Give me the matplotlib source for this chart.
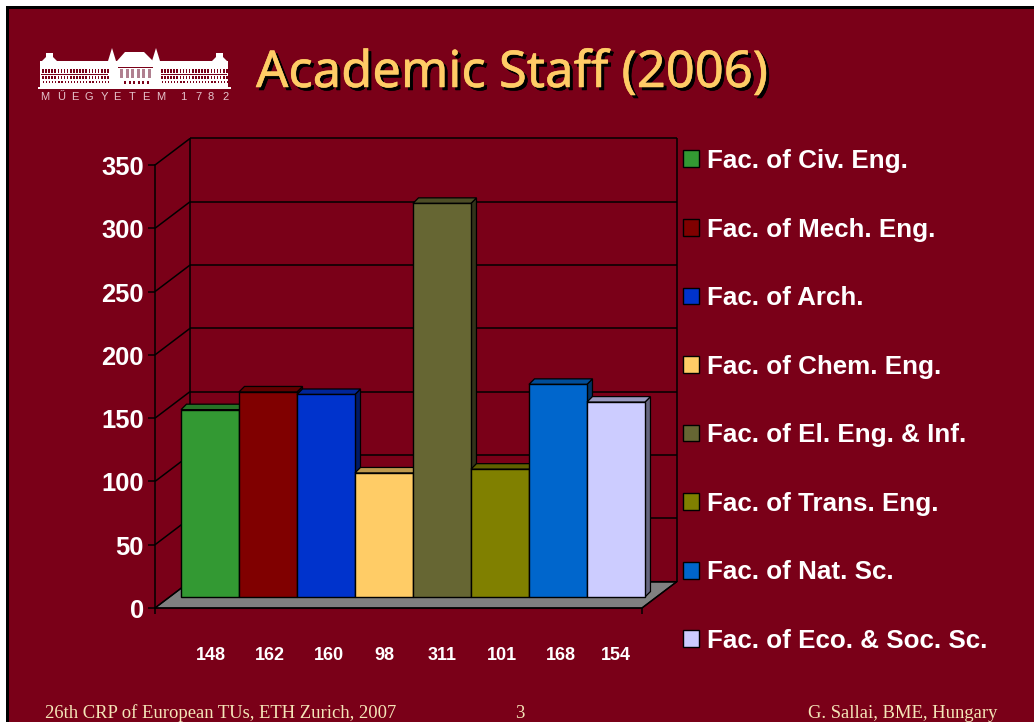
import matplotlib
matplotlib.use("Agg")
import matplotlib.pyplot as plt
import matplotlib.patheffects as pe
from matplotlib.patches import Polygon, Rectangle
from matplotlib.transforms import ScaledTranslation
import numpy as np

faculties = ["Fac. of Civ. Eng.", "Fac. of Mech. Eng.", "Fac. of Arch.", "Fac. of Chem. Eng.",
             "Fac. of El. Eng. & Inf.", "Fac. of Trans. Eng.", "Fac. of Nat. Sc.", "Fac. of Eco. & Soc. Sc."]
staff = [148, 162, 160, 98, 311, 101, 168, 154]
colors = ["#339933", "#800000", "#0033CC", "#FFCC66", "#666633", "#808000", "#0066CC", "#CCCCFF"]
yticks = [0, 50, 100, 150, 200, 250, 300, 350]
label_nudge_px = [1, 2, 3, 0, 0, 2, 3, 0]

BG = "#7A0018"
W, H = 1034, 722
fig = plt.figure(figsize=(W / 100, H / 100), dpi=100, facecolor="white")

# ---------- slide layer, in pixel coordinates ----------
bg = fig.add_axes([0, 0, 1, 1], zorder=0)
bg.set_xlim(0, W); bg.set_ylim(H, 0); bg.axis("off")
bg.add_patch(Rectangle((6, 6), W, H, fc="black", ec="none"))
bg.add_patch(Rectangle((9, 9), W, H, fc=BG, ec="none"))

# logo
white = "white"
def poly(pts, c=white):
    bg.add_patch(Polygon(pts, closed=True, fc=c, ec="none"))
def rect(x, y, w, h, c=white):
    bg.add_patch(Rectangle((x, y), w, h, fc=c, ec="none"))
rect(38, 87, 193, 1.6)
rect(40, 60.5, 188, 26.5)
poly([(41, 62), (46, 57), (46, 53), (53, 53), (53, 57), (58, 62)])
poly([(211, 62), (216, 57), (216, 53), (223, 53), (223, 57), (228, 62)])
poly([(117, 61), (125, 52), (144, 52), (153, 61)])
poly([(108, 61), (112, 48), (116, 61)])
poly([(152, 61), (156, 48), (160, 61)])
for x in np.arange(42, 108, 3.1):
    rect(x, 68.5, 1.6, 4, BG); rect(x, 76, 1.6, 2.6, BG); rect(x + 0.8, 81, 1.2, 1.6, BG)
for x in np.arange(161, 227, 3.1):
    rect(x, 68.5, 1.6, 4, BG); rect(x, 76, 1.6, 2.6, BG); rect(x + 0.8, 81, 1.2, 1.6, BG)
rect(41, 73.6, 67, 0.9, BG); rect(161, 73.6, 66, 0.9, BG)
rect(118, 67, 35, 0.8, BG)
for x in np.arange(120, 152, 5.6):
    rect(x, 69, 3, 8.5, "#B08090")
for x in np.arange(124, 148, 4.5):
    rect(x, 81, 2, 3, BG)
logo_chars = list("MŰEGYETEM1782")
logo_x = [45, 61, 75, 89, 104, 117, 132, 146, 161, 183, 198, 211, 226]
for ch, x in zip(logo_chars, logo_x):
    bg.text(x, 97, ch, color="#E6C4CC", fontsize=8, family="Liberation Sans", ha="center", va="center")

# title
title = "Academic Staff (2006)"
bg.text(259, 90, title, color="black", fontsize=36.5, family="Noto Sans", ha="left", va="baseline",
        path_effects=[pe.withStroke(linewidth=0.4, foreground="black")])
bg.text(256, 87, title, color="#FFCC66", fontsize=36.5, family="Noto Sans", ha="left", va="baseline",
        path_effects=[pe.withStroke(linewidth=0.4, foreground="#FFCC66")])

# footer
foot = dict(color="#F5E6B8", fontsize=13.4, family="Liberation Serif", va="baseline")
bg.text(45, 718, "26th CRP of European TUs, ETH Zurich, 2007", ha="left", **foot)
bg.text(520, 718, "3", ha="center", **foot)
bg.text(997, 718, "G. Sallai, BME, Hungary", ha="right", **foot)

# ---------- chart ----------
left, right, top, bottom = 155, 642, 165, 608
ax = fig.add_axes([left / W, 1 - bottom / H, (right - left) / W, (bottom - top) / H], zorder=1)
ax.patch.set_alpha(0)
ax.set_xlim(-0.5, 7.897); ax.set_ylim(0, 350)
px_x = 58.0
px_v = (bottom - top) / 350
WALL_DX, WALL_DV = 35 / px_x, 26.5 / px_v
BAR_DX, BAR_DV = 26 / px_x, 11 / px_v
SIDE_DX, SIDE_DV = 5.5 / px_x, 5.5 / px_v
x0, x1 = ax.get_xlim()
line = dict(color="black", lw=1.1, clip_on=False, solid_capstyle="butt")

for s in ["top", "right"]:
    ax.spines[s].set_visible(False)
for s in ["left", "bottom"]:
    ax.spines[s].set_linewidth(1.1)

# floor
ax.add_patch(Polygon([(x0, 0), (x1, 0), (x1 + WALL_DX, WALL_DV), (x0 + WALL_DX, WALL_DV)],
                     closed=True, fc="#808080", ec="black", lw=0.8, clip_on=False, zorder=1))
# walls and grid
for v in yticks:
    ax.plot([x0 + WALL_DX, x1 + WALL_DX], [v + WALL_DV] * 2, zorder=1.5, **line)
    ax.plot([x0, x0 + WALL_DX], [v, v + WALL_DV], zorder=1.5, **line)
ax.plot([x0 + WALL_DX] * 2, [WALL_DV, 350 + WALL_DV], zorder=1.5, **line)
ax.plot([x1 + WALL_DX] * 2, [WALL_DV, 350 + WALL_DV], zorder=1.5, **line)
ax.plot([x1, x1 + WALL_DX], [0, WALL_DV], zorder=1.5, **line)
ax.plot([x1, x1], [0, -6 / px_v], zorder=1.5, **line)

# bars: left to right so that each one covers its neighbour's side
xs = np.arange(len(staff))
handles = []
for i, (xv, v, c) in enumerate(zip(xs, staff, colors)):
    z = 2 + i * 0.1
    rgb = np.array(matplotlib.colors.to_rgb(c))
    l, r = xv - 0.5 + BAR_DX, xv + 0.5 + BAR_DX
    tv = v + BAR_DV
    ax.add_patch(Polygon([(r, BAR_DV), (r + SIDE_DX, BAR_DV + SIDE_DV), (r + SIDE_DX, tv + SIDE_DV), (r, tv)],
                         closed=True, fc=rgb * 0.5, ec="black", lw=0.9, clip_on=False, zorder=z))
    ax.add_patch(Polygon([(l, tv), (r, tv), (r + SIDE_DX, tv + SIDE_DV), (l + SIDE_DX, tv + SIDE_DV)],
                         closed=True, fc=rgb * 0.75, ec="black", lw=0.9, clip_on=False, zorder=z))
    b = ax.bar(xv + BAR_DX, v, bottom=BAR_DV, width=1.0, color=c, edgecolor="black", linewidth=1.0,
               clip_on=False, zorder=z + 0.01)
    handles.append(b[0])

# axes text
ax.set_yticks(yticks)
ax.set_yticklabels([str(v) for v in yticks], color="white", fontsize=18.4, fontweight="bold",
                   family="Liberation Sans", va="center")
ax.tick_params(axis="y", length=5, width=1.1, color="black", pad=3)
shift = ScaledTranslation(0, -3 / 100, fig.dpi_scale_trans)
for t in ax.get_yticklabels():
    t.set_transform(t.get_transform() + shift)
ax.set_xticks([])
for xv, v, n in zip(xs, staff, label_nudge_px):
    ax.annotate(str(v), xy=(xv + BAR_DX, 0), xycoords="data",
                xytext=(n * 0.72, -47 * 0.72), textcoords="offset points", ha="center", va="center",
                color="white", fontsize=13, fontweight="bold", family="Liberation Sans", annotation_clip=False)
ax.plot([x0, x0], [0, -6 / px_v], zorder=1.5, **line)

leg = ax.legend(handles, faculties, loc="upper left", bbox_to_anchor=(683 / W, 1 - 149 / H),
                bbox_transform=fig.transFigure, frameon=False, borderpad=0, borderaxespad=0,
                handlelength=0.62, handleheight=0.62, handletextpad=0.3, labelspacing=1.715,
                prop={"family": "Liberation Sans", "weight": "bold", "size": 18.7}, labelcolor="white")

fig.savefig("out.png", dpi=100, facecolor="white")
